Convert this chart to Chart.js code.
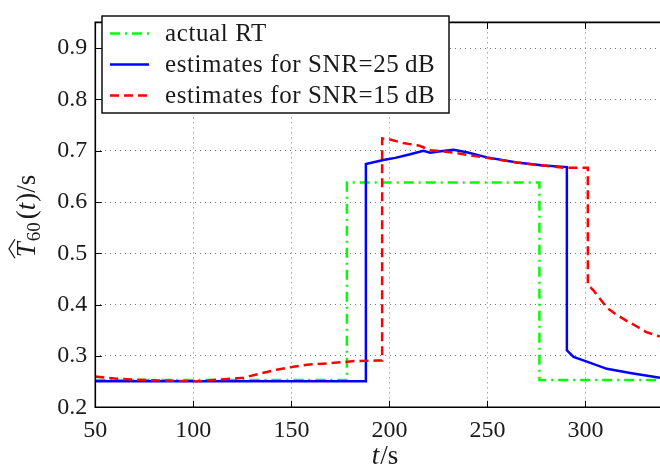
<!DOCTYPE html>
<html>
<head>
<meta charset="utf-8">
<script src="https://cdn.jsdelivr.net/npm/chart.js@4.4.1/dist/chart.umd.min.js"></script>
<style>
  html, body { margin: 0; padding: 0; background: #fff; }
</style>
</head>
<body>
<canvas id="c" width="660" height="472"></canvas>
<script>
// tick labels
const xTicks = [50, 100, 150, 200, 250, 300];
const yTicks = [0.2, 0.3, 0.4, 0.5, 0.6, 0.7, 0.8, 0.9];

// actual RT (step signal)
const rtT = [50, 178.3, 178.3, 276.5, 276.5, 338];
const rtV = [0.253, 0.253, 0.638, 0.638, 0.253, 0.253];

// estimates, SNR = 25 dB
const snr25T = [50, 188, 188, 196.9, 203, 210.6, 217.3, 220.8, 226, 232.7, 239.5, 249.7, 265, 278.6, 290.5,
                290.5, 293.9, 300.7, 310.9, 322.8, 338];
const snr25V = [0.251, 0.251, 0.674, 0.682, 0.686, 0.693, 0.700, 0.696, 0.699, 0.702, 0.697, 0.687, 0.677, 0.671, 0.668,
                0.311, 0.298, 0.289, 0.275, 0.267, 0.2575];

// estimates, SNR = 15 dB
const snr15T = [50, 61, 78, 102, 110, 119, 125.5, 134, 142.5, 151, 158, 166, 175, 182, 193, 196.3,
                196.3, 199.5, 207, 215, 221, 233, 248, 265, 278.6, 289, 299, 301.2,
                301.2, 304, 311, 316, 321, 326, 331, 338];
const snr15V = [0.260, 0.2557, 0.2526, 0.2507, 0.253, 0.2557, 0.2575, 0.2657, 0.2733, 0.279, 0.283, 0.285, 0.2876, 0.290, 0.291, 0.291,
                0.724, 0.7226, 0.715, 0.710, 0.701, 0.696, 0.687, 0.677, 0.671, 0.6667, 0.667, 0.667,
                0.439, 0.428, 0.394, 0.380, 0.3685, 0.358, 0.3466, 0.3378];

const labels = ['actual RT', 'estimates for SNR=25\u2009dB', 'estimates for SNR=15\u2009dB'];

const pts = (t, v) => t.map((x, i) => ({ x: x, y: v[i] }));
const serif = '"Liberation Serif", "DejaVu Serif", serif';

// box, inner tick marks, legend and axis titles
const decor = {
  id: 'decor',
  afterDatasetsDraw(chart) {
    const ctx = chart.ctx;
    const a = chart.chartArea;
    const xs = chart.scales.x, ys = chart.scales.y;
    ctx.save();
    ctx.strokeStyle = '#000';
    ctx.lineWidth = 1;
    ctx.beginPath();
    xTicks.forEach(v => {
      const px = Math.round(xs.getPixelForValue(v)) + 0.5;
      ctx.moveTo(px, a.bottom); ctx.lineTo(px, a.bottom - 6.5);
      ctx.moveTo(px, a.top); ctx.lineTo(px, a.top + 6.5);
    });
    yTicks.forEach(v => {
      const py = Math.round(ys.getPixelForValue(v)) + 0.5;
      ctx.moveTo(a.left, py); ctx.lineTo(a.left + 6.5, py);
    });
    ctx.stroke();
    ctx.lineWidth = 1.6;
    ctx.beginPath();
    ctx.moveTo(a.right + 5, a.top);
    ctx.lineTo(a.left, a.top);
    ctx.lineTo(a.left, a.bottom);
    ctx.lineTo(a.right + 5, a.bottom);
    ctx.stroke();
    ctx.restore();
  },
  afterDraw(chart) {
    const ctx = chart.ctx;
    ctx.save();
    // legend
    const lg = { x: 102, y: 16, w: 347, h: 97 };
    ctx.fillStyle = '#fff';
    ctx.fillRect(lg.x, lg.y, lg.w, lg.h);
    ctx.strokeStyle = '#000';
    ctx.lineWidth = 1.4;
    ctx.strokeRect(lg.x, lg.y, lg.w, lg.h);
    chart.data.datasets.forEach((ds, i) => {
      const cy = lg.y + 17.5 + i * 31;
      ctx.save();
      ctx.strokeStyle = ds.borderColor;
      ctx.lineWidth = ds.borderWidth;
      ctx.setLineDash(ds.borderDash || []);
      ctx.beginPath();
      ctx.moveTo(110, cy); ctx.lineTo(149, cy);
      ctx.stroke();
      ctx.restore();
      ctx.fillStyle = '#1a1a1a';
      ctx.font = '25px ' + serif;
      ctx.textBaseline = 'alphabetic';
      ctx.textAlign = 'left';
      ctx.letterSpacing = '0.6px';
      ctx.fillText(ds.label, 165, cy + 7.6);
    });
    ctx.letterSpacing = '0px';

    // x title: t/s
    ctx.fillStyle = '#1a1a1a';
    ctx.textBaseline = 'alphabetic';
    ctx.font = 'italic 27px ' + serif;
    const tw = ctx.measureText('t').width;
    ctx.font = '27px ' + serif;
    const sw = ctx.measureText('/s').width;
    let x0 = 385 - (tw + sw + 1) / 2;
    ctx.font = 'italic 27px ' + serif;
    ctx.fillText('t', x0, 464);
    ctx.font = '27px ' + serif;
    ctx.fillText('/s', x0 + tw + 1, 464);

    // y title: T^_60(t)/s rotated
    ctx.translate(35, 216);
    ctx.rotate(-Math.PI / 2);
    ctx.font = 'italic 27px ' + serif;
    const wT = ctx.measureText('T').width;
    const wt = ctx.measureText('t').width;
    ctx.font = '19px ' + serif;
    const w60 = ctx.measureText('60').width;
    ctx.font = '27px ' + serif;
    const wOp = ctx.measureText('(').width;
    const wCl = ctx.measureText(')/s').width;
    const total = wT + 1 + w60 + 3 + wOp + wt + 1 + wCl;
    let p = -total / 2;
    ctx.font = 'italic 27px ' + serif;
    ctx.fillText('T', p, 0);
    // hat
    ctx.strokeStyle = '#1a1a1a';
    ctx.lineWidth = 1.3;
    ctx.beginPath();
    ctx.moveTo(p - 1, -20);
    ctx.lineTo(p + wT / 2 + 1, -26);
    ctx.lineTo(p + wT + 3, -20);
    ctx.stroke();
    p += wT + 1;
    ctx.font = '19px ' + serif;
    ctx.fillText('60', p, 5);
    p += w60 + 3;
    ctx.font = '27px ' + serif;
    ctx.fillText('(', p, 0);
    p += wOp;
    ctx.font = 'italic 27px ' + serif;
    ctx.fillText('t', p, 0);
    p += wt + 1;
    ctx.font = '27px ' + serif;
    ctx.fillText(')/s', p, 0);
    ctx.restore();
  }
};

new Chart(document.getElementById('c'), {
  type: 'line',
  data: {
    datasets: [
      { label: labels[0], data: pts(rtT, rtV), borderColor: '#00ff00', borderWidth: 2.5,
        borderDash: [10, 5, 2, 5], order: 3 },
      { label: labels[1], data: pts(snr25T, snr25V), borderColor: '#0000ff', borderWidth: 2.5,
        order: 2 },
      { label: labels[2], data: pts(snr15T, snr15V), borderColor: '#ff0000', borderWidth: 2.5,
        borderDash: [9, 5], order: 1 }
    ]
  },
  options: {
    responsive: false,
    animation: false,
    devicePixelRatio: 1,
    layout: { padding: { top: 9.3, left: 0, right: 0, bottom: 0 } },
    elements: { point: { radius: 0 }, line: { tension: 0, fill: false } },
    plugins: { legend: { display: false }, tooltip: { enabled: false } },
    scales: {
      x: {
        type: 'linear', min: 50, max: 338,
        afterBuildTicks(s) { s.ticks = xTicks.map(v => ({ value: v })); },
        afterFit(s) { s.height = 64.7; },
        ticks: { color: '#1a1a1a', font: { family: serif, size: 24 }, padding: 9, maxRotation: 0,
                 autoSkip: false, callback: v => String(v) },
        grid: { color: '#777', lineWidth: 1, drawTicks: false },
        border: { display: false, dash: [1, 4] }
      },
      y: {
        type: 'linear', min: 0.2, max: 0.95,
        afterBuildTicks(s) { s.ticks = yTicks.map(v => ({ value: v })); },
        afterFit(s) { s.width = 95.3; },
        ticks: { color: '#1a1a1a', font: { family: serif, size: 24 }, padding: 8,
                 autoSkip: false, callback: v => v.toFixed(1) },
        grid: { color: '#777', lineWidth: 1, drawTicks: false },
        border: { display: false, dash: [1, 4] }
      }
    }
  },
  plugins: [decor]
});
</script>
</body>
</html>
